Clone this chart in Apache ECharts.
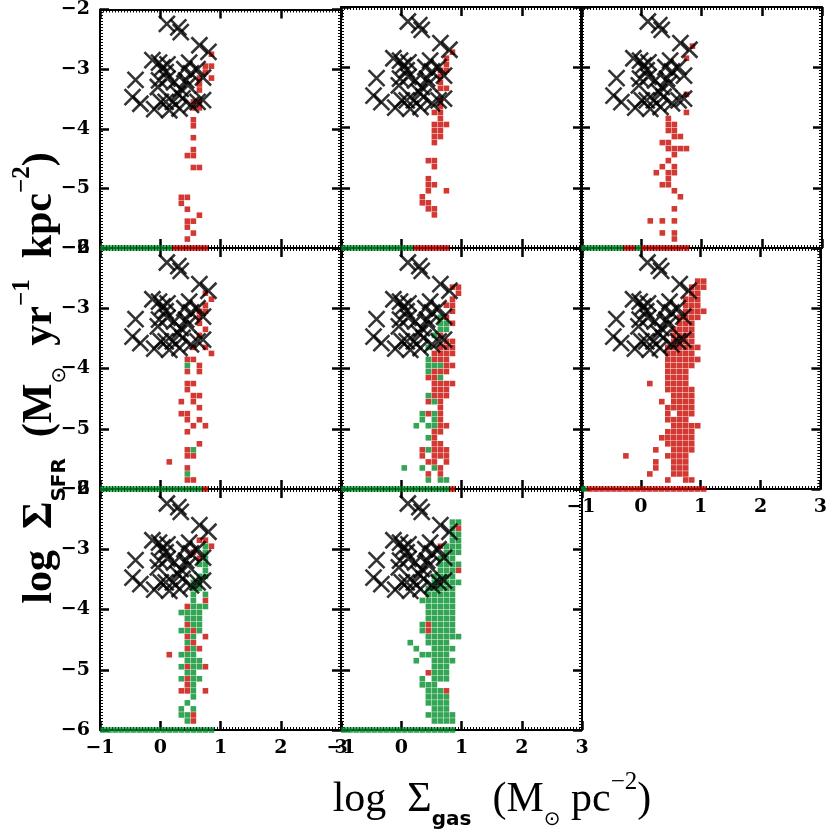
<!DOCTYPE html>
<html>
<head>
<meta charset="utf-8">
<script src="https://cdn.jsdelivr.net/npm/echarts@6/dist/echarts.min.js"></script>
<style>
html, body { margin: 0; padding: 0; background: #fff; }
#chart { width: 830px; height: 830px; }
</style>
</head>
<body>
<div id="chart"></div>
<script>
// axis ticks
const xTicks = [-1, 0, 1, 2, 3];
const yTicks = [-6, -5, -4, -3, -2];

// observed points (black crosses), same in every panel
const obsPoints = [
  [0.11, -2.24], [0.30, -2.30], [0.34, -2.38], [0.65, -2.60], [0.80, -2.71],
  [-0.13, -2.85], [-0.02, -2.89], [0.04, -2.97], [0.12, -2.92], [0.09, -3.05],
  [-0.41, -3.18], [-0.02, -3.19], [0.12, -3.16], [0.40, -3.00], [0.48, -2.89],
  [0.51, -3.07], [0.71, -3.14], [0.62, -3.00], [-0.46, -3.47], [-0.33, -3.58],
  [-0.10, -3.67], [0.01, -3.55], [0.15, -3.69], [0.21, -3.55], [0.29, -3.41],
  [0.37, -3.49], [0.34, -3.33], [0.46, -3.27], [0.51, -3.60], [0.71, -3.52],
  [0.32, -3.66], [0.09, -3.55], [0.23, -3.22], [0.43, -3.19], [-0.04, -3.30],
  [0.62, -3.55]
];

// model cells, rows of [log SFR, [log gas ...]]
const p1Red = [
  [-2.75, [0.85]], [-2.95, [0.75, 0.85]], [-3.05, [0.75]], [-3.15, [0.65, 0.85]],
  [-3.25, [0.65]], [-3.35, [0.65]], [-3.55, [0.55, 0.65]], [-3.65, [0.55, 0.65]],
  [-3.85, [0.55]], [-3.95, [0.55]], [-4.15, [0.55]], [-4.35, [0.55]],
  [-4.45, [0.45, 0.55]], [-4.65, [0.55, 0.65]], [-5.15, [0.35, 0.45]], [-5.25, [0.35]],
  [-5.35, [0.45]], [-5.45, [0.65]], [-5.55, [0.45, 0.55]], [-5.65, [0.45]],
  [-5.75, [0.55]], [-5.85, [0.45]],
  [-6, [0.25, 0.35, 0.45, 0.55, 0.65, 0.75]]
];
const p1Green = [
  [-6, [-0.95, -0.85, -0.75, -0.65, -0.55, -0.45, -0.35, -0.25, -0.15, -0.05, 0.05, 0.15]]
];

const p2Red = [
  [-2.75, [0.85]], [-2.85, [0.75]], [-2.95, [0.75]], [-3.05, [0.65, 0.75]],
  [-3.15, [0.65]], [-3.25, [0.65]], [-3.35, [0.65, 0.75]], [-3.55, [0.65]],
  [-3.65, [0.65]], [-3.75, [0.55, 0.65]], [-3.85, [0.65]], [-3.95, [0.55, 0.65, 0.75]],
  [-4.05, [0.55, 0.65]], [-4.15, [0.55, 0.65]], [-4.25, [0.55]], [-4.55, [0.45, 0.55]],
  [-4.65, [0.55]], [-4.85, [0.45]], [-4.95, [0.45, 0.55]], [-5.05, [0.45, 0.75]],
  [-5.15, [0.35]], [-5.25, [0.35, 0.45]], [-5.35, [0.45, 0.55]], [-5.45, [0.55]],
  [-6, [0.25, 0.35, 0.45, 0.55, 0.65, 0.75]]
];
const p2Green = [
  [-6, [-0.95, -0.85, -0.75, -0.65, -0.55, -0.45, -0.35, -0.25, -0.15, -0.05, 0.05, 0.15]]
];

const p3Red = [
  [-2.65, [0.85]], [-2.85, [0.75]], [-3.45, [0.75]], [-3.75, [0.75]],
  [-3.85, [0.45]], [-3.95, [0.45, 0.55]], [-4.05, [0.45, 0.55]], [-4.15, [0.55, 0.65]],
  [-4.25, [0.35, 0.45]], [-4.35, [0.45, 0.55, 0.65, 0.75]], [-4.45, [0.55]], [-4.55, [0.45]],
  [-4.65, [0.35, 0.55]], [-4.75, [0.25, 0.45, 0.55]], [-4.85, [0.45]], [-4.95, [0.35, 0.45]],
  [-5.05, [0.55]], [-5.15, [0.65]], [-5.35, [0.55]], [-5.55, [0.15, 0.35, 0.55]],
  [-5.75, [0.35, 0.55]], [-5.85, [0.55]],
  [-6, [-0.25, -0.15, 0.05, 0.15, 0.25, 0.35, 0.45, 0.55, 0.65, 0.75]]
];
const p3Green = [
  [-6, [-0.95, -0.85, -0.75, -0.65, -0.55, -0.45, -0.35, -0.05]]
];

const p4Red = [
  [-2.75, [0.75]], [-2.85, [0.85]], [-2.95, [0.75]], [-3.05, [0.65, 0.75]],
  [-3.15, [0.65]], [-3.25, [0.65]], [-3.35, [0.75]], [-3.45, [0.65]],
  [-3.65, [0.55, 0.75]], [-3.75, [0.85]], [-3.85, [0.45, 0.55]], [-3.95, [0.65]],
  [-4.05, [0.45, 0.65]], [-4.25, [0.45, 0.55]], [-4.35, [0.45]], [-4.45, [0.55, 0.65]],
  [-4.55, [0.35, 0.55]], [-4.65, [0.65]], [-4.75, [0.35, 0.45]], [-4.85, [0.45, 0.65]],
  [-4.95, [0.55, 0.75]], [-5.05, [0.45]], [-5.25, [0.65]], [-5.35, [0.45]],
  [-5.45, [0.45, 0.55]], [-5.55, [0.15]], [-5.65, [0.45]], [-5.85, [0.45, 0.55]],
  [-6, [0.75]]
];
const p4Green = [
  [-3.95, [0.45]], [-5.35, [0.55]], [-5.75, [0.45]],
  [-6, [-0.95, -0.85, -0.75, -0.65, -0.55, -0.45, -0.35, -0.25, -0.15, -0.05, 0.05, 0.15, 0.25, 0.35, 0.45, 0.55, 0.65]]
];

const p5Red = [
  [-2.65, [0.85, 0.95]], [-2.75, [0.95]], [-2.85, [0.85]], [-2.95, [0.75, 0.85]],
  [-3.05, [0.85]], [-3.15, [0.75]], [-3.25, [0.85]], [-3.45, [0.65]],
  [-3.55, [0.75, 0.85]], [-3.65, [0.65, 0.75, 0.85]], [-3.75, [0.55, 0.65, 0.75, 0.85]],
  [-3.85, [0.55, 0.65, 0.75]], [-3.95, [0.75, 0.85]], [-4.05, [0.55, 0.65, 0.75]],
  [-4.15, [0.45, 0.55]], [-4.25, [0.55, 0.65, 0.75, 0.85]], [-4.35, [0.55, 0.65, 0.75]],
  [-4.45, [0.55, 0.65, 0.75]], [-4.55, [0.45, 0.65]], [-4.65, [0.65]],
  [-4.75, [0.45, 0.65]], [-4.85, [0.65]], [-4.95, [0.65, 0.75]], [-5.05, [0.55, 0.65]],
  [-5.15, [0.55]], [-5.25, [0.55, 0.65]], [-5.35, [0.35, 0.55, 0.65, 0.75]],
  [-5.45, [0.35, 0.55, 0.65, 0.75]], [-5.55, [0.45, 0.55, 0.75]], [-5.65, [0.65]],
  [-5.75, [0.45, 0.65]],
  [-6, [0.85]]
];
const p5Green = [
  [-3.15, [0.65]], [-3.25, [0.65, 0.75]], [-3.35, [0.65, 0.75]], [-3.45, [0.55]],
  [-3.65, [0.45]], [-3.85, [0.45]], [-3.95, [0.45, 0.55, 0.65]], [-4.05, [0.45]],
  [-4.15, [0.65]], [-4.45, [0.45]], [-4.55, [0.55]], [-4.75, [0.35, 0.55]],
  [-4.85, [0.35, 0.55]], [-4.95, [0.25, 0.45, 0.55]], [-5.15, [0.45]], [-5.35, [0.45]],
  [-5.65, [0.05, 0.35, 0.55]], [-5.85, [0.45, 0.65, 0.75]],
  [-6, [-0.95, -0.85, -0.75, -0.65, -0.55, -0.45, -0.35, -0.25, -0.15, -0.05, 0.05, 0.15, 0.25, 0.35, 0.45, 0.55, 0.65, 0.75]]
];

const p6Red = [
  [-2.55, [0.95, 1.05]], [-2.65, [0.85, 0.95, 1.05]], [-2.75, [0.85, 0.95]],
  [-2.85, [0.75, 0.85, 0.95]], [-2.95, [0.75, 0.85, 0.95]], [-3.05, [0.75, 0.85, 0.95, 1.05]],
  [-3.15, [0.65, 0.75, 0.85, 0.95]], [-3.25, [0.65, 0.75, 0.85]], [-3.35, [0.55, 0.65, 0.75, 0.85]],
  [-3.45, [0.55, 0.65, 0.75, 0.85]], [-3.55, [0.55, 0.65, 0.75, 0.85]],
  [-3.65, [0.45, 0.55, 0.65, 0.75, 0.85, 0.95]], [-3.75, [0.45, 0.55, 0.65, 0.75, 0.85]],
  [-3.85, [0.45, 0.55, 0.65, 0.75, 0.85, 0.95]], [-3.95, [0.45, 0.55, 0.65, 0.75, 0.85]],
  [-4.05, [0.45, 0.55, 0.65, 0.75]], [-4.15, [0.45, 0.55, 0.65, 0.75]],
  [-4.25, [0.15, 0.45, 0.55, 0.65, 0.75]], [-4.35, [0.45, 0.55, 0.65, 0.75, 0.85]],
  [-4.45, [0.55, 0.65, 0.75, 0.85]], [-4.55, [0.35, 0.55, 0.65, 0.75, 0.85]],
  [-4.65, [0.45, 0.55, 0.65, 0.75, 0.85]], [-4.75, [0.45, 0.65, 0.75, 0.85]],
  [-4.85, [0.45, 0.55, 0.65, 0.75]], [-4.95, [0.55, 0.65, 0.75, 0.85, 0.95]],
  [-5.05, [0.45, 0.55, 0.65, 0.75, 0.85]], [-5.15, [0.35, 0.45, 0.55, 0.65, 0.75, 0.85]],
  [-5.25, [0.45, 0.55, 0.65, 0.75, 0.85]], [-5.35, [0.25, 0.55, 0.65, 0.75, 0.85]],
  [-5.45, [-0.25, 0.45, 0.55, 0.65, 0.75]], [-5.55, [0.25, 0.55, 0.65, 0.75]],
  [-5.65, [0.25, 0.55, 0.65, 0.75]], [-5.75, [0.15, 0.55, 0.65, 0.75]],
  [-5.85, [0.45, 0.75, 0.85]],
  [-6, [-0.85, -0.75, -0.65, -0.55, -0.45, -0.35, -0.25, -0.15, -0.05, 0.05, 0.15, 0.25, 0.35, 0.45, 0.55, 0.65, 0.75, 0.85, 0.95, 1.05]]
];
const p6Green = [
  [-6, [-0.95]]
];

const p7Red = [
  [-2.85, [0.65, 0.75]], [-2.95, [0.85]], [-3.05, [0.55]], [-3.15, [0.65]],
  [-3.85, [0.75]], [-3.95, [0.45]], [-4.25, [0.45]], [-4.35, [0.55]],
  [-4.45, [0.45, 0.75]], [-4.55, [0.55]], [-4.65, [0.45, 0.65]], [-4.75, [0.15]],
  [-4.95, [0.45, 0.75]], [-5.15, [0.45]], [-5.25, [0.45]], [-5.35, [0.35, 0.45, 0.75]],
  [-5.75, [0.55]], [-5.85, [0.55]]
];
const p7Green = [
  [-2.95, [0.75]], [-3.05, [0.75]], [-3.15, [0.75]], [-3.25, [0.65, 0.75]],
  [-3.35, [0.75]], [-3.45, [0.65, 0.75]], [-3.55, [0.55, 0.65]], [-3.65, [0.55, 0.65]],
  [-3.75, [0.55, 0.75]], [-3.85, [0.55]], [-3.95, [0.55, 0.65, 0.75]],
  [-4.05, [0.35, 0.45, 0.55, 0.65]], [-4.15, [0.45, 0.55, 0.65]], [-4.25, [0.55, 0.65]],
  [-4.35, [0.35, 0.45, 0.65]], [-4.45, [0.55]], [-4.55, [0.45]], [-4.65, [0.55]],
  [-4.75, [0.35, 0.45, 0.55]], [-4.85, [0.45, 0.55, 0.65]], [-4.95, [0.35, 0.55, 0.65]],
  [-5.05, [0.45, 0.55]], [-5.15, [0.35, 0.55, 0.65]], [-5.25, [0.55]], [-5.35, [0.55]],
  [-5.45, [0.55]], [-5.55, [0.45]], [-5.65, [0.35, 0.55]], [-5.75, [0.35, 0.45]],
  [-5.85, [0.45]],
  [-6, [-0.95, -0.85, -0.75, -0.65, -0.55, -0.45, -0.35, -0.25, -0.15, -0.05, 0.05, 0.15, 0.25, 0.35, 0.45, 0.55, 0.65, 0.75, 0.85]]
];

const p8Red = [
  [-2.65, [0.95]], [-2.95, [0.65]], [-3.35, [0.95]], [-4.25, [0.45]],
  [-4.35, [0.45]], [-5.05, [0.45]], [-5.35, [0.75]]
];
const p8Green = [
  [-2.55, [0.85, 0.95]], [-2.65, [0.85]], [-2.75, [0.85, 0.95]], [-2.85, [0.85, 0.95]],
  [-2.95, [0.75, 0.85, 0.95]], [-3.05, [0.75, 0.85, 0.95]], [-3.15, [0.65, 0.75, 0.85]],
  [-3.25, [0.65, 0.75, 0.85, 0.95]], [-3.35, [0.65, 0.75, 0.85]], [-3.45, [0.55, 0.65, 0.75, 0.85]],
  [-3.55, [0.55, 0.65, 0.75, 0.85, 0.95]], [-3.65, [0.45, 0.55, 0.65, 0.75, 0.85]],
  [-3.75, [0.45, 0.55, 0.65, 0.75, 0.85]], [-3.85, [0.35, 0.45, 0.55, 0.65, 0.75, 0.85]],
  [-3.95, [0.45, 0.55, 0.65, 0.75, 0.85]], [-4.05, [0.45, 0.55, 0.65, 0.75, 0.85]],
  [-4.15, [0.45, 0.55, 0.65, 0.75, 0.85]], [-4.25, [0.35, 0.55, 0.65, 0.75, 0.85]],
  [-4.35, [0.35, 0.55, 0.65, 0.75, 0.85]], [-4.45, [0.45, 0.55, 0.65, 0.75, 0.85, 0.95]],
  [-4.55, [0.15, 0.45, 0.55, 0.65, 0.75]], [-4.65, [0.25, 0.55, 0.65, 0.75, 0.85]],
  [-4.75, [0.35, 0.45, 0.55, 0.65, 0.75]], [-4.85, [0.25, 0.55, 0.65, 0.75, 0.85]],
  [-4.95, [0.55, 0.65, 0.75]], [-5.05, [0.55, 0.65, 0.75]], [-5.15, [0.35, 0.55, 0.65, 0.75]],
  [-5.25, [0.35, 0.45, 0.55]], [-5.35, [0.45, 0.55, 0.65]], [-5.45, [0.45, 0.55, 0.65, 0.75]],
  [-5.55, [0.45, 0.55, 0.65, 0.75]], [-5.65, [0.55, 0.65, 0.75]],
  [-5.75, [0.45, 0.55, 0.65, 0.75, 0.85]], [-5.85, [0.55, 0.65, 0.75, 0.85]],
  [-6, [-0.95, -0.85, -0.75, -0.65, -0.55, -0.45, -0.35, -0.25, -0.15, -0.05, 0.05, 0.15, 0.25, 0.35, 0.45, 0.55, 0.65, 0.75, 0.85]]
];

const panelRed = [p1Red, p2Red, p3Red, p4Red, p5Red, p6Red, p7Red, p8Red];
const panelGreen = [p1Green, p2Green, p3Green, p4Green, p5Green, p6Green, p7Green, p8Green];

// layout
const lefts = [100, 341, 581];
const tops = [7, 248, 489];
const cellW = 241, cellH = 241;
const RED = '#c80800', GREEN = '#008f2a';
const tickFont = 'DejaVu Serif';

function rowsToPoints(rows) {
  const out = [];
  rows.forEach(r => r[1].forEach(x => out.push([x, r[0]])));
  return out;
}
function minus(v) { return v < 0 ? '\u2212' + Math.abs(v) : String(v); }

function makeAxis(isX, g, pos, showLabel) {
  return {
    type: 'value', gridIndex: g, position: pos,
    min: isX ? xTicks[0] : yTicks[0],
    max: isX ? xTicks[xTicks.length - 1] : yTicks[yTicks.length - 1],
    interval: 1,
    axisLine: { show: true, onZero: false, lineStyle: { color: '#000', width: 2 } },
    axisTick: { show: true, inside: true, length: 9, lineStyle: { color: '#000', width: 2.5 } },
    minorTick: { show: true, splitNumber: 20, length: 3, lineStyle: { color: '#000', width: 1 } },
    splitLine: { show: false },
    axisLabel: {
      show: showLabel, margin: isX ? 9 : 10, color: '#000',
      fontFamily: tickFont, fontWeight: 'bold', fontSize: 19,
      formatter: minus
    }
  };
}

const grid = [], xAxis = [], yAxis = [], series = [];
for (let i = 0; i < 8; i++) {
  const col = i % 3, row = Math.floor(i / 3);
  grid.push({ left: lefts[col], top: tops[row], width: cellW, height: cellH });
  const xLab = i >= 5;
  const yLab = col === 0;
  xAxis.push(makeAxis(true, i, 'bottom', xLab));
  xAxis.push(makeAxis(true, i, 'top', false));
  yAxis.push(makeAxis(false, i, 'left', yLab));
  yAxis.push(makeAxis(false, i, 'right', false));
  const base = { type: 'scatter', xAxisIndex: 2 * i, yAxisIndex: 2 * i, clip: false, silent: true };
  series.push(Object.assign({}, base, {
    data: rowsToPoints(panelRed[i]), symbol: 'rect', symbolSize: 5.6,
    itemStyle: { color: RED }, z: 3
  }));
  series.push(Object.assign({}, base, {
    data: rowsToPoints(panelGreen[i]), symbol: 'rect', symbolSize: 5.6,
    itemStyle: { color: GREEN }, z: 3
  }));
  series.push(Object.assign({}, base, {
    data: obsPoints, symbol: 'path://M0,0L10,10M10,0L0,10', symbolSize: 16,
    itemStyle: { color: 'rgba(0,0,0,0)', borderColor: '#000', borderWidth: 2.6 }, z: 4
  }));
}

const titleRich = (bold) => ({
  t: { fontFamily: 'Liberation Serif', fontSize: 42, fontWeight: bold ? 'bold' : 'normal', lineHeight: 60, verticalAlign: 'middle', fill: '#000' },
  sub: { fontFamily: 'DejaVu Sans', fontSize: 20, fontWeight: 'bold', verticalAlign: 'bottom', fill: '#000' },
  sun: { fontFamily: 'DejaVu Sans', fontSize: 20, verticalAlign: 'bottom', fill: '#000' },
  sup: { fontFamily: 'Liberation Serif', fontSize: 25, fontWeight: bold ? 'bold' : 'normal', verticalAlign: 'top', fill: '#000' }
});

const chart = echarts.init(document.getElementById('chart'));
chart.setOption({
  animation: false,
  backgroundColor: '#fff',
  grid: grid,
  xAxis: xAxis,
  yAxis: yAxis,
  series: series,
  graphic: [
    {
      type: 'text', x: 492, y: 800, silent: true,
      style: {
        text: '{t|log  \u03a3}{sub|gas}{t|  (M}{sun|\u2299}{t| pc}{sup|\u22122}{t|)}',
        rich: titleRich(false), align: 'center', verticalAlign: 'middle'
      }
    },
    {
      type: 'text', x: 40, y: 378, rotation: Math.PI / 2, silent: true,
      style: {
        text: '{t|log  \u03a3}{sub|SFR}{t|  (M}{sun|\u2299}{t|  yr}{sup|\u22121}{t|  kpc}{sup|\u22122}{t|)}',
        rich: titleRich(true), align: 'center', verticalAlign: 'middle'
      }
    }
  ]
});
</script>
</body>
</html>
